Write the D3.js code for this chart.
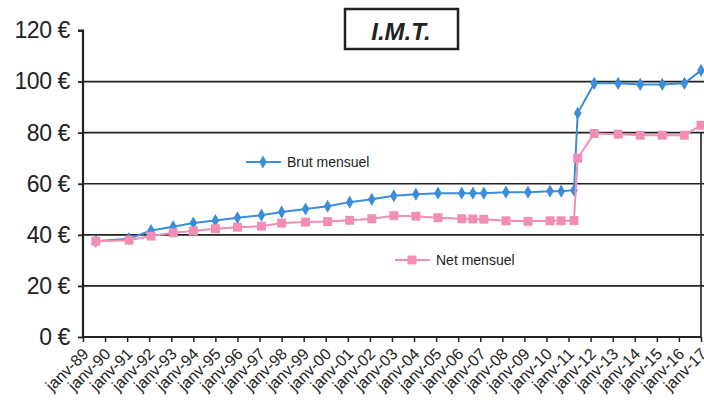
<!DOCTYPE html>
<html><head><meta charset="utf-8">
<script src="https://cdn.jsdelivr.net/npm/d3@7"></script>
<style>
html,body{margin:0;padding:0;background:#fff;}
svg{display:block;font-family:"Liberation Sans",Arial,sans-serif;}
</style></head>
<body>
<svg id="chart" width="704" height="403"></svg>
<script>
// ---- data ----
const dates = ["1989-08","1991-02","1992-02","1993-02","1994-01","1995-01","1996-01","1997-02","1998-01","1999-02",
  "2000-02","2001-02","2002-02","2003-02","2004-02","2005-02","2006-03","2006-09","2007-03","2008-03",
  "2009-03","2010-03","2010-09","2011-04","2011-06","2012-03","2013-04","2014-04","2015-04","2016-04","2017-01"];
const brutMensuel = [37.5,38.5,41.7,43.2,44.6,45.6,46.7,47.7,48.9,50.1,
  51.2,52.8,53.9,55.3,55.9,56.3,56.3,56.3,56.3,56.7,
  56.7,57.1,57.1,57.5,87.6,99.3,99.3,98.9,98.9,99.3,104.4];
const netMensuel = [37.5,37.9,39.5,40.8,41.5,42.4,43.0,43.4,44.6,45.0,
  45.2,45.7,46.3,47.5,47.3,46.7,46.3,46.2,46.1,45.5,
  45.3,45.5,45.5,45.6,70.0,79.7,79.4,79.0,79.0,79.0,82.9];
const yTicks = [0,20,40,60,80,100,120];
const xTickYears = d3.range(1989,2018);
const title = "I.M.T.";
const seriesNames = ["Brut mensuel","Net mensuel"];

// ---- chart ----
(function(){
const parse = d3.timeParse("%Y-%m");
const svg = d3.select("#chart");
const mL = 83, mR = 701, mT = 30.5, mB = 337;

const x = d3.scaleTime().domain([new Date(1989,0,1), new Date(2017,0,1)]).range([mL,mR]);
const y = d3.scaleLinear().domain([0,120]).range([mB,mT]);

const blue = "#3a8ddb", pink = "#f28db5", ink = "#222";

// gridlines
svg.append("g").selectAll("line").data(yTicks.filter(v=>v>0 && v<120)).join("line")
  .attr("x1",mL).attr("x2",704).attr("y1",d=>y(d)).attr("y2",d=>y(d))
  .attr("stroke",ink).attr("stroke-width",1.6);

// y axis
const yAxis = svg.append("g").attr("transform",`translate(${mL},0)`)
  .call(d3.axisLeft(y).tickValues(yTicks).tickSize(5).tickFormat(d=>d+" €"));
yAxis.select(".domain").attr("stroke",ink).attr("stroke-width",2.2).attr("d",`M-5,${mT}H0V${mB}`);
yAxis.selectAll(".tick line").attr("stroke",ink).attr("stroke-width",1.8);
yAxis.selectAll(".tick text").attr("x",-13).attr("font-size",23).attr("fill",ink)
  .attr("font-family","'Liberation Sans',Arial,sans-serif").attr("letter-spacing","-0.4");

// x axis
const fmt = d => "janv-" + d3.timeFormat("%y")(d);
const xAxis = svg.append("g").attr("transform",`translate(0,${mB})`)
  .call(d3.axisBottom(x).tickValues(xTickYears.map(yr=>new Date(yr,0,1))).tickSize(5).tickFormat(fmt));
xAxis.select(".domain").attr("stroke",ink).attr("stroke-width",2.2).attr("d",`M${mL},0H${mR}`);
xAxis.selectAll(".tick line").attr("stroke",ink).attr("stroke-width",1.5);
xAxis.selectAll(".tick text").attr("font-size",16).attr("fill",ink)
  .attr("font-family","'Liberation Sans',Arial,sans-serif")
  .attr("text-anchor","end").attr("dy","0.35em")
  .attr("transform","translate(2,14) rotate(-45)").attr("y",0).attr("x",0);

// right border
svg.append("line").attr("x1",mR).attr("x2",mR).attr("y1",y(80)).attr("y2",mB)
  .attr("stroke",ink).attr("stroke-width",1.6);

const data = dates.map((d,i)=>({date:parse(d), brut:brutMensuel[i], net:netMensuel[i]}));

function drawSeries(key,color,symbol,size){
  const line = d3.line().x(d=>x(d.date)).y(d=>y(d[key]));
  svg.append("path").datum(data).attr("d",line).attr("fill","none")
    .attr("stroke",color).attr("stroke-width",2);
  svg.append("g").selectAll("path").data(data).join("path")
    .attr("transform",d=>`translate(${x(d.date)},${y(d[key])})`)
    .attr("d",d3.symbol().type(symbol).size(size)).attr("fill",color);
}
drawSeries("brut",blue,d3.symbolDiamond,50);
drawSeries("net",pink,d3.symbolSquare,80);

// legends
function legend(name,color,symbol,size,x0,yy){
  const g = svg.append("g");
  g.append("line").attr("x1",x0).attr("x2",x0+35).attr("y1",yy).attr("y2",yy).attr("stroke",color).attr("stroke-width",2);
  g.append("path").attr("transform",`translate(${x0+17},${yy})`).attr("d",d3.symbol().type(symbol).size(size)).attr("fill",color);
  g.append("text").attr("x",x0+41).attr("y",yy).attr("dy","0.35em").attr("font-size",14).attr("fill",ink).text(name);
}
legend(seriesNames[0],blue,d3.symbolDiamond,50,246,162);
legend(seriesNames[1],pink,d3.symbolSquare,80,395,260);

// title box
svg.append("rect").attr("x",345).attr("y",9).attr("width",113).attr("height",40)
  .attr("fill","#fff").attr("stroke",ink).attr("stroke-width",2.5);
svg.append("text").attr("x",401).attr("y",40).attr("text-anchor","middle")
  .attr("font-size",24).attr("font-weight","bold").attr("font-style","italic").attr("fill",ink).text(title);
})();
</script>
</body></html>
